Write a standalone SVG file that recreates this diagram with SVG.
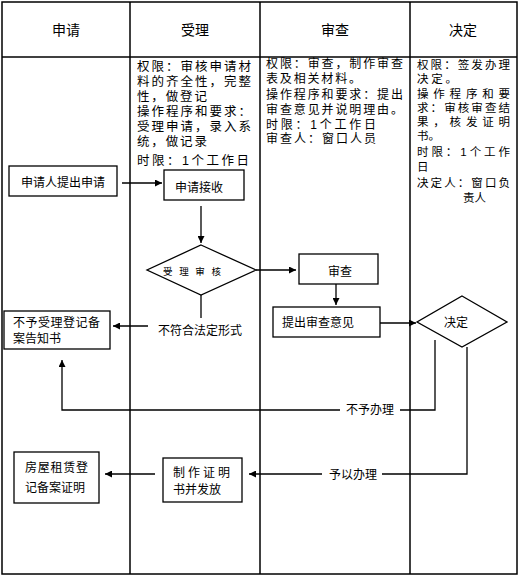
<svg xmlns="http://www.w3.org/2000/svg" width="519" height="580" viewBox="0 0 519 580">
<defs>
<style>
text{font-family:"Liberation Sans","Noto Sans CJK SC",sans-serif;fill:#000;dominant-baseline:central}
.h{font-size:14px;text-anchor:middle}
.t{font-size:12px}
.c{font-size:12px;text-anchor:middle}
.d{font-size:12.5px}
.d2{font-size:12px}
.d3{font-size:11.5px}
.box{fill:#fff;stroke:#000;stroke-width:1.3}
.ln{fill:none;stroke:#000;stroke-width:1.3}
.grid{fill:none;stroke:#000;stroke-width:1.5}
</style>
<marker id="ah" viewBox="0 0 10 10" refX="10" refY="5" markerWidth="8" markerHeight="7" markerUnits="userSpaceOnUse" orient="auto">
<path d="M0,0 L10,5 L0,10 z" fill="#000"/>
</marker>
</defs>
<rect width="519" height="580" fill="#fff"/>
<g id="lanes">
<rect class="grid" x="2" y="2" width="515" height="572"/>
<line class="grid" x1="2" y1="57" x2="517" y2="57"/>
<line class="grid" x1="130" y1="2" x2="130" y2="574"/>
<line class="grid" x1="260" y1="2" x2="260" y2="574"/>
<line class="grid" x1="410" y1="2" x2="410" y2="574"/>
<text class="h" x="66" y="30">申请</text>
<text class="h" x="195" y="30">受理</text>
<text class="h" x="335" y="30">审查</text>
<text class="h" x="463" y="30">决定</text>
</g>
<g id="note-accept">
<text class="d" x="137" y="67" textLength="114" lengthAdjust="spacing">权限：审核申请材</text>
<text class="d" x="137" y="82" textLength="114" lengthAdjust="spacing">料的齐全性，完整</text>
<text class="d" x="137" y="97" textLength="70" lengthAdjust="spacing">性，做登记</text>
<text class="d" x="137" y="112" textLength="114" lengthAdjust="spacing">操作程序和要求：</text>
<text class="d" x="137" y="127" textLength="114" lengthAdjust="spacing">受理申请，录入系</text>
<text class="d" x="137" y="142" textLength="70" lengthAdjust="spacing">统，做记录</text>
<text class="d" x="137" y="161" textLength="112" lengthAdjust="spacing">时限：1个工作日</text>
</g>
<g id="note-review">
<text class="d2" x="266" y="64" textLength="137" lengthAdjust="spacing">权限：审查，制作审查</text>
<text class="d2" x="266" y="79" textLength="95" lengthAdjust="spacing">表及相关材料。</text>
<text class="d2" x="266" y="95" textLength="137" lengthAdjust="spacing">操作程序和要求：提出</text>
<text class="d2" x="266" y="110" textLength="137" lengthAdjust="spacing">审查意见并说明理由。</text>
<text class="d2" x="266" y="125" textLength="110" lengthAdjust="spacing">时限：1个工作日</text>
<text class="d2" x="266" y="139" textLength="110" lengthAdjust="spacing">审查人：窗口人员</text>
</g>
<g id="note-decide">
<text class="d3" x="417" y="65" textLength="93" lengthAdjust="spacing">权限：签发办理</text>
<text class="d3" x="417" y="79" textLength="40" lengthAdjust="spacing">决定。</text>
<text class="d3" x="417" y="94" textLength="93" lengthAdjust="spacing">操作程序和要</text>
<text class="d3" x="417" y="108" textLength="93" lengthAdjust="spacing">求：审核审查结</text>
<text class="d3" x="417" y="122" textLength="93" lengthAdjust="spacing">果，核发证明</text>
<text class="d3" x="417" y="136">书。</text>
<text class="d3" x="417" y="152" textLength="93" lengthAdjust="spacing">时限：1个工作</text>
<text class="d3" x="417" y="167">日</text>
<text class="d3" x="417" y="183" textLength="93" lengthAdjust="spacing">决定人：窗口负</text>
<text class="d3" x="463" y="198">责人</text>
</g>
<g id="connectors">
<line class="ln" x1="122" y1="183" x2="162" y2="183" marker-end="url(#ah)"/>
<line class="ln" x1="201" y1="206" x2="201" y2="243" marker-end="url(#ah)"/>
<line class="ln" x1="256" y1="270" x2="296" y2="270" marker-end="url(#ah)"/>
<line class="ln" x1="336" y1="284" x2="336" y2="305" marker-end="url(#ah)"/>
<line class="ln" x1="380" y1="323" x2="416" y2="323" marker-end="url(#ah)"/>
<line class="ln" x1="201" y1="295" x2="201" y2="318"/>
<line class="ln" x1="148" y1="326" x2="113" y2="326" marker-end="url(#ah)"/>
<polyline class="ln" points="435,340 435,410 400,410"/>
<polyline class="ln" points="340,410 62,410 62,360" marker-end="url(#ah)"/>
<polyline class="ln" points="467,347 467,474 382,474"/>
<line class="ln" x1="322" y1="474" x2="249" y2="474" marker-end="url(#ah)"/>
<line class="ln" x1="155" y1="474" x2="105" y2="474" marker-end="url(#ah)"/>
<text class="c" x="200" y="331">不符合法定形式</text>
<text class="c" x="370" y="410">不予办理</text>
<text class="c" x="353" y="475">予以办理</text>
</g>
<g id="n-apply">
<rect class="box" x="9" y="166" width="108" height="30"/>
<text class="c" x="63" y="183">申请人提出申请</text>
</g>
<g id="n-receive">
<rect class="box" x="164" y="170" width="80" height="30"/>
<text class="c" x="199" y="188">申请接收</text>
</g>
<g id="n-check">
<polygon class="box" points="201,245 256,270 201,295 147,270"/>
<text x="163" y="271" style="font-size:9.5px" textLength="58" lengthAdjust="spacing">受理审核</text>
</g>
<g id="n-review">
<rect class="box" x="299" y="254" width="79" height="30"/>
<text class="c" x="340" y="272">审查</text>
</g>
<g id="n-opinion">
<rect class="box" x="273" y="307" width="107" height="30"/>
<text class="t" x="282" y="323">提出审查意见</text>
</g>
<g id="n-decide">
<polygon class="box" points="462,296 507,322 462,347 417,322"/>
<text class="c" x="456" y="323">决定</text>
</g>
<g id="n-reject">
<rect class="box" x="4" y="311" width="106" height="38"/>
<text class="t" x="13" y="323" textLength="87" lengthAdjust="spacing">不予受理登记备</text>
<text class="t" x="13" y="339">案告知书</text>
</g>
<g id="n-issue">
<rect class="box" x="163" y="458" width="79" height="44"/>
<text class="t" x="173" y="473" textLength="57" lengthAdjust="spacing">制作证明</text>
<text class="t" x="173" y="490">书并发放</text>
</g>
<g id="n-cert">
<rect class="box" x="14" y="452" width="85" height="51"/>
<text class="t" x="25" y="468" textLength="63" lengthAdjust="spacing">房屋租赁登</text>
<text class="t" x="25" y="488">记备案证明</text>
</g>
</svg>
